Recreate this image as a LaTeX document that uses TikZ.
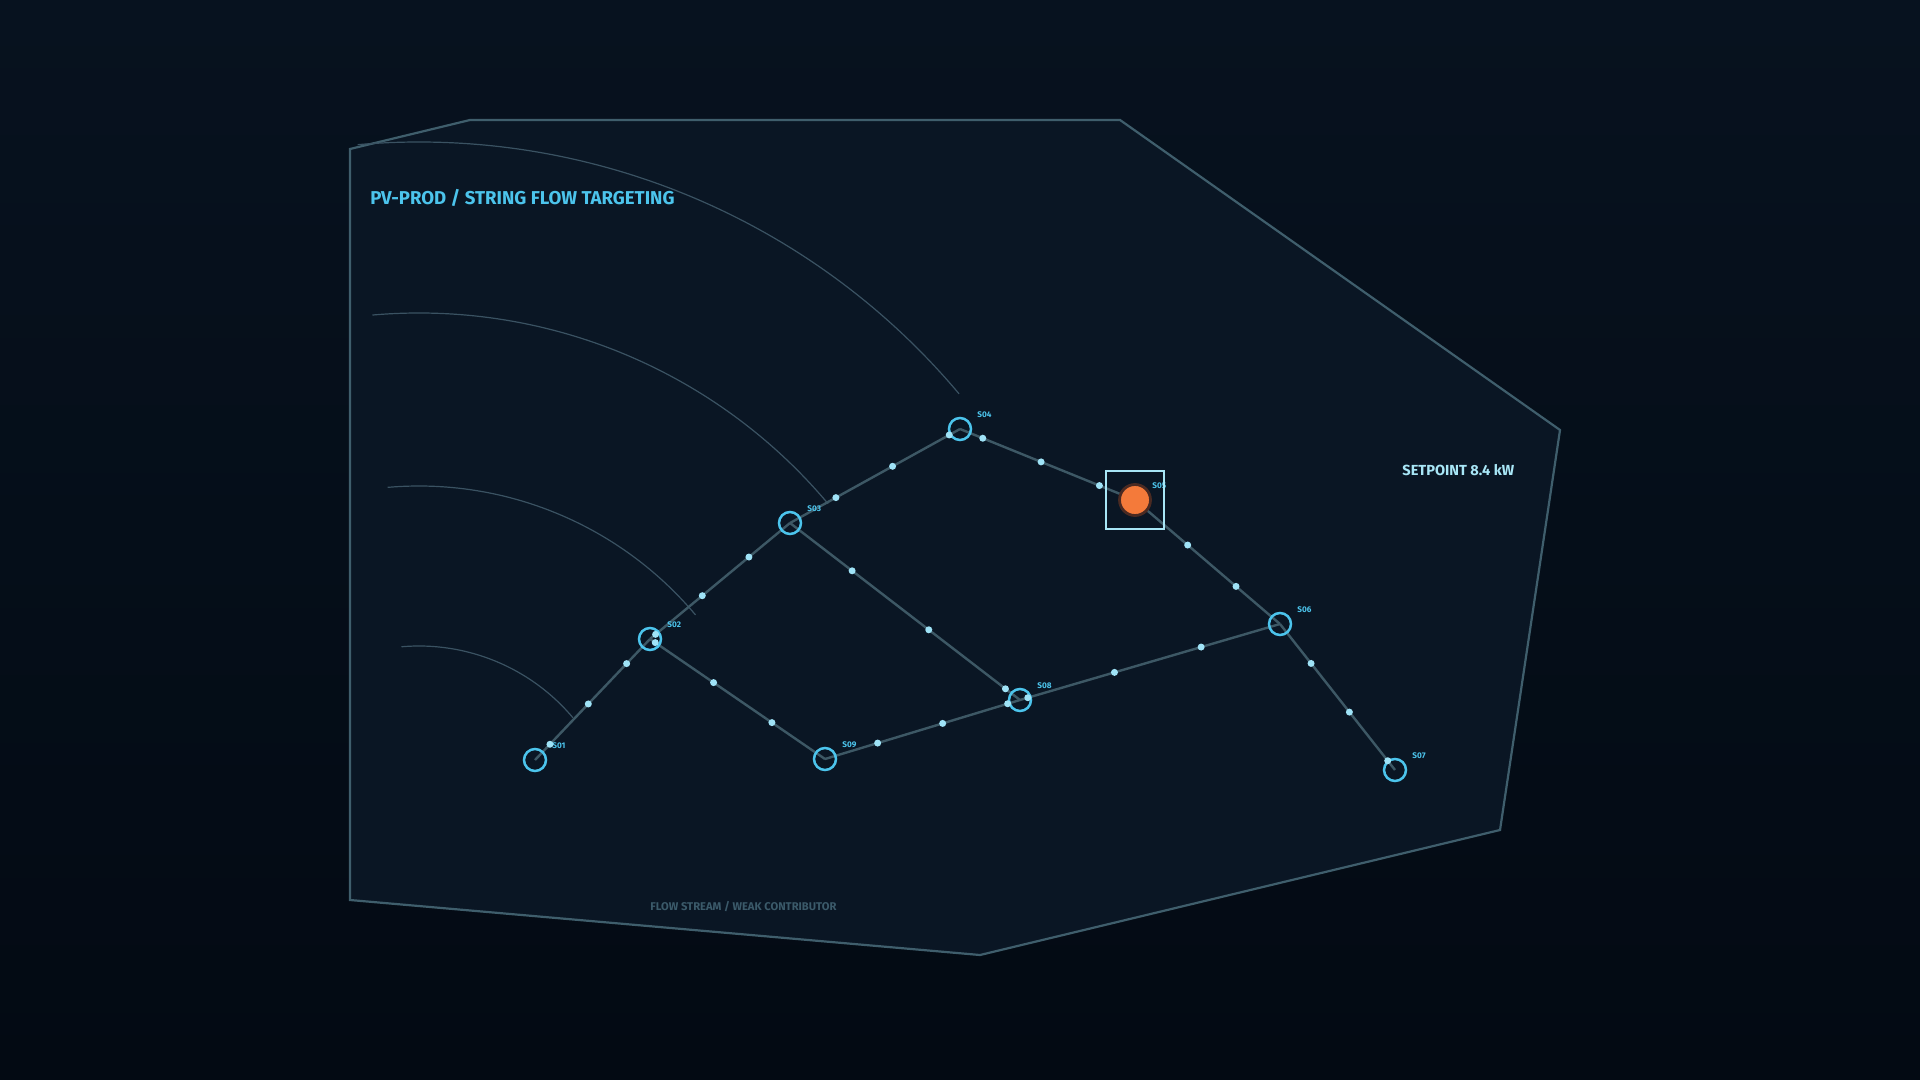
\documentclass[tikz,border=0pt]{standalone}
\usepackage{fontspec}
\setmainfont{Fira Sans}
\usetikzlibrary{backgrounds}

\definecolor{bgtop}{HTML}{07121F}
\definecolor{bgbot}{HTML}{030A13}
\definecolor{panel}{HTML}{0A1624}
\definecolor{frame}{HTML}{3F5E6C}
\definecolor{arcline}{HTML}{3A5262}
\definecolor{linkc}{HTML}{3D5865}
\definecolor{ring}{HTML}{4CC4EC}
\definecolor{dotc}{HTML}{9FE3F7}
\definecolor{pale}{HTML}{A8E6F6}
\definecolor{dim}{HTML}{3B5A6A}
\definecolor{hot}{HTML}{F47A3A}
\definecolor{halo}{HTML}{4A2A22}

\begin{document}
\begin{tikzpicture}[
    x=0.5pt, y=-0.5pt,
    station/.style={circle, draw=ring, line width=1.25pt, minimum size=11pt, inner sep=0pt},
    link/.style={draw=linkc, line width=1.2pt},
    flowdot/.style={circle, fill=dotc, minimum size=3.5pt, inner sep=0pt},
    lbl/.style={anchor=west, text=ring, font=\fontsize{4.1}{4}\selectfont\bfseries, inner sep=0pt},
    ripple/.style={draw=arcline, line width=0.6pt}
]

    \useasboundingbox (0,0) rectangle (1920,1080);

    % stations
    \node[station] (s01) at (535,760) {};
    \node[station] (s02) at (650,639) {};
    \node[station] (s03) at (790,523) {};
    \node[station] (s04) at (960,429) {};
    \node[station] (s05) at (1135,500) {};
    \node[station] (s06) at (1280,624) {};
    \node[station] (s07) at (1395,770) {};
    \node[station] (s08) at (1020,700) {};
    \node[station] (s09) at (825,759) {};

    \foreach \s/\t in {s01/S01, s02/S02, s03/S03, s04/S04, s05/S05,
                       s06/S06, s07/S07, s08/S08, s09/S09}
        \path (\s) ++(17,-14) node[lbl] (l\s) {\t};

    \begin{pgfonlayer}{background}
        \fill[top color=bgtop, bottom color=bgbot] (0,0) rectangle (1920,1080);
        \draw[fill=panel, draw=frame, line width=1.1pt]
            (350,149) -- (470,120) -- (1120,120) -- (1560,430)
            -- (1500,830) -- (980,955) -- (350,900) -- cycle;
        % ripples
        \foreach \r in {201, 361, 534, 705}
            \draw[ripple] (419,847) ++(-95:\r) arc[start angle=-95, end angle=-40, radius=\r];
        % strings
        \foreach \a/\b in {s01/s02, s02/s03, s03/s04, s04/s05, s05/s06,
                           s06/s07, s02/s09, s09/s08, s08/s06, s03/s08}
            \draw[link] (\a.center) -- (\b.center);
    \end{pgfonlayer}

    % flow particles
    \foreach \a/\b/\o in {s01/s02/0.13, s02/s03/0.04, s03/s04/0.27, s04/s05/0.13,
                          s05/s06/0.03, s06/s07/0.27, s02/s09/0.03, s09/s08/0.27,
                          s08/s06/0.03, s03/s08/0.27}
        \foreach \k in {0,1,2}
            \path (\a.center) -- (\b.center)
                node[flowdot, pos={\o+\k/3}] {};

    % target
    \node[circle, fill=hot, draw=halo, line width=1.4pt, minimum size=15.5pt, inner sep=0pt] (hit) at (s05) {};
    \node[draw=pale, line width=1pt, minimum size=29pt, inner sep=0pt] (lock) at (s05) {};

    \node[anchor=base west, text=ring, font=\fontsize{9.3}{10}\selectfont\bfseries, inner sep=0pt]
        (title) at (370,205) {PV-PROD / STRING FLOW TARGETING};
    \node[anchor=base west, text=pale, font=\fontsize{7.3}{9}\selectfont\bfseries, inner sep=0pt]
        (setpt) at (1402,475) {SETPOINT 8.4 kW};
    \node[anchor=base west, text=dim, font=\fontsize{5.6}{6}\selectfont\bfseries, inner sep=0pt]
        (legend) at (650,910) {FLOW STREAM / WEAK CONTRIBUTOR};

\end{tikzpicture}
\end{document}
